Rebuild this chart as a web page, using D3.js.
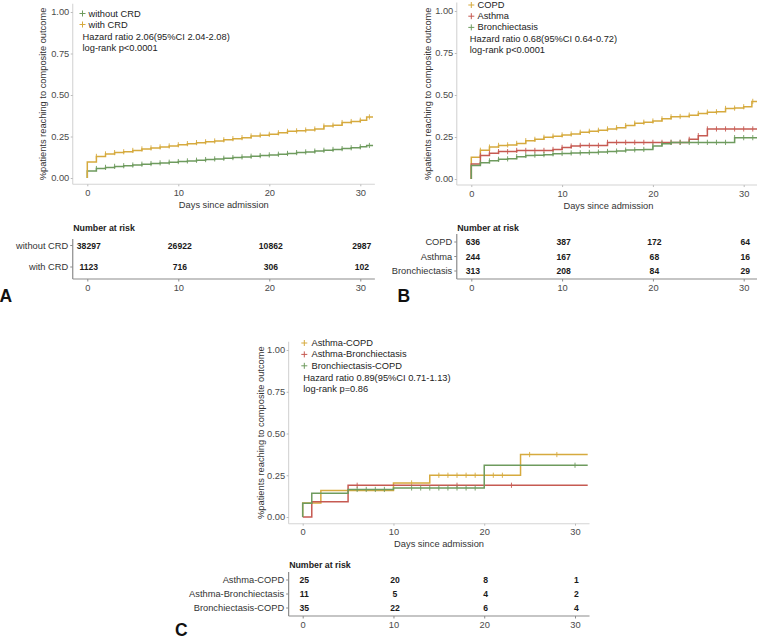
<!DOCTYPE html>
<html>
<head>
<meta charset="utf-8">
<script src="https://cdn.jsdelivr.net/npm/d3@7"></script>
<style>
  html, body { margin: 0; padding: 0; background: #fff; }
  svg { display: block; font-family: "Liberation Sans", Arial, sans-serif; }
</style>
</head>
<body>
<script>
// ---------------- DATA ----------------
const dayTicks = [0, 10, 20, 30];
const yTicks = [0, 0.25, 0.5, 0.75, 1.0];
const xTitle = "Days since admission";
const yTitle = "%patients reaching to composite outcome";
const riskTitle = "Number at risk";

// Panel A
const A_groups = ["without CRD", "with CRD"];
const A_times = [0,1,2,3,4,5,6,7,8,9,10,11,12,13,14,15,16,17,18,19,20,21,22,23,24,25,26,27,28,29,30,30.7];
const A_without = [0.042,0.057,0.064,0.070,0.074,0.078,0.083,0.087,0.091,0.095,0.099,0.103,0.107,0.111,0.115,0.119,0.123,0.127,0.131,0.135,0.139,0.143,0.148,0.153,0.157,0.162,0.167,0.172,0.177,0.182,0.188,0.196];
const A_with = [0.097,0.130,0.145,0.153,0.158,0.166,0.175,0.181,0.187,0.193,0.200,0.207,0.213,0.218,0.223,0.230,0.237,0.243,0.253,0.258,0.263,0.272,0.281,0.284,0.289,0.295,0.313,0.318,0.334,0.340,0.348,0.368];
const A_end = 31.4;
const A_censor = [1,2,3,4,5,6,7,8,9,10,11,12,13,14,15,16,17,18,19,20,21,22,23,24,25,26,27,28,29,30,31];
const A_risk_without = [38297, 26922, 10862, 2987];
const A_risk_with = [1123, 716, 306, 102];
const A_stats = ["Hazard ratio 2.06(95%CI 2.04-2.08)", "log-rank p<0.0001"];

// Panel B
const B_groups = ["COPD", "Asthma", "Bronchiectasis"];
const B_times = [0,1,2,3,4,5,6,7,8,9,10,11,12,13,14,15,16,17,18,19,20,21,22,23,24,25,26,27,28,29,30,30.9];
const B_copd = [0.129,0.171,0.190,0.200,0.203,0.212,0.228,0.236,0.248,0.255,0.262,0.268,0.278,0.284,0.290,0.298,0.305,0.318,0.332,0.338,0.345,0.358,0.370,0.372,0.380,0.390,0.398,0.400,0.420,0.422,0.430,0.462];
const B_asthma = [0.090,0.140,0.153,0.163,0.163,0.170,0.170,0.170,0.170,0.176,0.188,0.196,0.200,0.200,0.200,0.218,0.218,0.218,0.218,0.218,0.218,0.218,0.218,0.218,0.236,0.258,0.298,0.298,0.298,0.298,0.298,0.298];
const B_bronch = [0.080,0.097,0.108,0.117,0.120,0.133,0.140,0.142,0.145,0.150,0.152,0.155,0.156,0.158,0.160,0.164,0.166,0.172,0.174,0.176,0.196,0.210,0.218,0.218,0.218,0.218,0.218,0.218,0.218,0.246,0.246,0.246];
const B_end = 31.8;
const B_censor = [1,2,3,4,5,6,7,8,9,10,11,12,13,14,15,16,17,18,19,20,21,22,23,24,25,26,27,28,29,30,31];
const B_risk_copd = [636, 387, 172, 64];
const B_risk_asthma = [244, 167, 68, 16];
const B_risk_bronch = [313, 208, 84, 29];
const B_stats = ["Hazard ratio 0.68(95%CI 0.64-0.72)", "log-rank p<0.0001"];

// Panel C
const C_groups = ["Asthma-COPD", "Asthma-Bronchiectasis", "Bronchiectasis-COPD"];
const C_ac_times = [0, 2, 10, 14, 24];
const C_ac_vals = [0.084, 0.158, 0.204, 0.250, 0.374];
const C_ab_times = [0, 1, 5];
const C_ab_vals = [0.000, 0.092, 0.190];
const C_bc_times = [0, 1, 5, 10, 20];
const C_bc_vals = [0.083, 0.142, 0.165, 0.174, 0.310];
const C_end = 31.4;
const C_ac_censor = [12, 15, 16, 17, 18, 19, 21, 22, 25, 28];
const C_ab_censor = [6, 17, 23];
const C_bc_censor = [6, 7, 8, 9, 12, 13, 14, 15, 16, 17, 18, 19, 30];
const C_risk_ac = [25, 20, 8, 1];
const C_risk_ab = [11, 5, 4, 2];
const C_risk_bc = [35, 22, 6, 4];
const C_stats = ["Hazard ratio 0.89(95%CI 0.71-1.13)", "log-rank p=0.86"];

// ---------------- STYLE ----------------
const GOLD = "#D6AA3E", GREEN = "#6E9B5E", RED = "#C65A52";
const FS = 9.3;

const svg = d3.select("body").append("svg").attr("width", 757).attr("height", 641);

function stepValue(times, vals, t) {
  const i = d3.bisectRight(times, t) - 1;
  return vals[Math.max(0, i)];
}

function drawPanel(p) {
  const g = svg.append("g");
  const x = d3.scaleLinear().domain([0, 30]).range(p.xRange);
  const y = d3.scaleLinear().domain([0, 1]).range(p.yRange);

  // axis lines (light gray)
  g.append("line").attr("x1", x(p.xLo)).attr("x2", x(p.xLo)).attr("y1", y(p.yHi)).attr("y2", y(p.yLo))
    .attr("stroke", "#d4d4d4").attr("stroke-width", 1.1);
  g.append("line").attr("x1", x(p.xLo)).attr("x2", x(p.xHi)).attr("y1", y(p.yLo)).attr("y2", y(p.yLo))
    .attr("stroke", "#d4d4d4").attr("stroke-width", 1.1);

  // y axis
  const ya = g.append("g").attr("transform", `translate(${x(p.xLo)},0)`)
    .call(d3.axisLeft(y).tickValues(yTicks).tickFormat(d3.format(".2f")).tickSize(2).tickPadding(1.5));
  ya.select(".domain").remove();
  ya.selectAll(".tick line").attr("stroke", "#bbb");
  ya.selectAll(".tick text").attr("font-size", FS).attr("fill", "#4a4a4a").attr("font-family", "Liberation Sans, Arial");

  // x axis
  const xa = g.append("g").attr("transform", `translate(0,${y(p.yLo)})`)
    .call(d3.axisBottom(x).tickValues(dayTicks).tickFormat(d3.format("d")).tickSize(2).tickPadding(3));
  xa.select(".domain").remove();
  xa.selectAll(".tick line").attr("stroke", "#bbb");
  xa.selectAll(".tick text").attr("font-size", FS).attr("fill", "#4a4a4a").attr("font-family", "Liberation Sans, Arial");

  // titles
  g.append("text").attr("x", (x(p.xLo) + x(p.xHi)) / 2).attr("y", y(p.yLo) + 23.5)
    .attr("text-anchor", "middle").attr("font-size", FS).attr("fill", "#333").text(xTitle);
  const yc = (y(p.yLo) + y(p.yHi)) / 2;
  g.append("text").attr("transform", `translate(${p.yTitleX},${yc}) rotate(-90)`)
    .attr("text-anchor", "middle").attr("dominant-baseline", "central")
    .attr("font-size", FS).attr("fill", "#333").text(yTitle);

  // curves
  const line = d3.line().x(d => x(d[0])).y(d => y(d[1])).curve(d3.curveStepAfter);
  p.series.forEach(s => {
    const pts = [[0, 0]].concat(s.times.map((t, i) => [t, s.vals[i]]))
      .concat([[p.end, s.vals[s.vals.length - 1]]]);
    g.append("path").attr("d", line(pts)).attr("fill", "none")
      .attr("stroke", s.color).attr("stroke-width", 1.5).attr("stroke-linejoin", "miter");
    s.censor.forEach(t => {
      const v = stepValue(s.times, s.vals, t);
      g.append("line").attr("x1", x(t)).attr("x2", x(t)).attr("y1", y(v) - 2.6).attr("y2", y(v) + 2.6)
        .attr("stroke", s.color).attr("stroke-width", 0.9);
    });
  });

  // legend
  p.series.forEach((s, i) => {
    const ly = p.legendY + i * p.legendStep;
    g.append("line").attr("x1", p.legendMX - 3).attr("x2", p.legendMX + 3).attr("y1", ly).attr("y2", ly)
      .attr("stroke", s.color).attr("stroke-width", 1);
    g.append("line").attr("x1", p.legendMX).attr("x2", p.legendMX).attr("y1", ly - 3).attr("y2", ly + 3)
      .attr("stroke", s.color).attr("stroke-width", 1);
    g.append("text").attr("x", p.legendTX).attr("y", ly).attr("dominant-baseline", "central")
      .attr("font-size", FS).attr("fill", "#222").text(s.name);
  });
  p.stats.forEach((t, i) => {
    g.append("text").attr("x", p.statX).attr("y", p.statY + i * 11.3).attr("dominant-baseline", "central")
      .attr("font-size", FS).attr("fill", "#222").text(t);
  });

  // risk table
  const tb = p.table;
  const ax = x(p.xLo);
  g.append("text").attr("x", ax + 0.5).attr("y", tb.titleY).attr("dominant-baseline", "central")
    .attr("font-size", 8.8).attr("font-weight", "bold").attr("fill", "#222").text(riskTitle);
  g.append("line").attr("x1", ax).attr("x2", ax).attr("y1", tb.top).attr("y2", tb.bottom)
    .attr("stroke", "#8c8c8c").attr("stroke-width", 1.2);
  g.append("line").attr("x1", ax).attr("x2", x(p.xHi)).attr("y1", tb.bottom).attr("y2", tb.bottom)
    .attr("stroke", "#8c8c8c").attr("stroke-width", 1.2);
  p.series.forEach((s, i) => {
    const ry = tb.rowY[i];
    g.append("line").attr("x1", ax - 2.5).attr("x2", ax).attr("y1", ry).attr("y2", ry)
      .attr("stroke", "#8c8c8c").attr("stroke-width", 1);
    g.append("text").attr("x", ax - 4.5).attr("y", ry).attr("text-anchor", "end").attr("dominant-baseline", "central")
      .attr("font-size", FS).attr("fill", "#333").text(s.name);
    s.risk.forEach((n, j) => {
      g.append("text").attr("x", x(dayTicks[j]) + 1.5).attr("y", ry).attr("text-anchor", "middle")
        .attr("dominant-baseline", "central").attr("font-size", 8.6).attr("font-weight", "bold")
        .attr("fill", "#1a1a1a").text(n);
    });
  });
  const ta = g.append("g").attr("transform", `translate(0,${tb.bottom})`)
    .call(d3.axisBottom(x).tickValues(dayTicks).tickFormat(d3.format("d")).tickSize(2.5).tickPadding(3));
  ta.select(".domain").remove();
  ta.selectAll(".tick line").attr("stroke", "#8c8c8c");
  ta.selectAll(".tick text").attr("font-size", FS).attr("fill", "#4a4a4a").attr("font-family", "Liberation Sans, Arial");

  // panel letter
  g.append("text").attr("x", p.letterX).attr("y", p.letterY).attr("font-size", 17.5).attr("font-weight", "bold")
    .attr("fill", "#111").text(p.letter);
}

drawPanel({
  xRange: [87.3, 360.3], yRange: [178, 12], xLo: -1.6, xHi: 31.6, yLo: -0.038, yHi: 1.05,
  end: A_end, yTitleX: 43,
  series: [
    { name: A_groups[0], times: A_times, vals: A_without, color: GREEN, censor: A_censor, risk: A_risk_without },
    { name: A_groups[1], times: A_times, vals: A_with, color: GOLD, censor: A_censor, risk: A_risk_with }
  ],
  legendY: 13.5, legendStep: 11, legendMX: 82.5, legendTX: 88.5,
  stats: A_stats, statX: 82.5, statY: 37,
  table: { titleY: 228, top: 239, bottom: 279, rowY: [245.5, 267] },
  letter: "A", letterX: -0.5, letterY: 302
});

drawPanel({
  xRange: [471.3, 743.7], yRange: [179, 11], xLo: -1.6, xHi: 31.8, yLo: -0.036, yHi: 1.05,
  end: B_end, yTitleX: 428,
  series: [
    { name: B_groups[0], times: B_times, vals: B_copd, color: GOLD, censor: B_censor, risk: B_risk_copd },
    { name: B_groups[1], times: B_times, vals: B_asthma, color: RED, censor: B_censor, risk: B_risk_asthma },
    { name: B_groups[2], times: B_times, vals: B_bronch, color: GREEN, censor: B_censor, risk: B_risk_bronch }
  ],
  legendY: 5, legendStep: 11.2, legendMX: 471.3, legendTX: 477.5,
  stats: B_stats, statX: 469.8, statY: 39,
  table: { titleY: 228, top: 234, bottom: 279, rowY: [242, 256.5, 271] },
  letter: "B", letterX: 397.5, letterY: 302
});

drawPanel({
  xRange: [302.7, 575], yRange: [517, 350], xLo: -1.55, xHi: 31.6, yLo: -0.04, yHi: 1.05,
  end: C_end, yTitleX: 261,
  series: [
    { name: C_groups[0], times: C_ac_times, vals: C_ac_vals, color: GOLD, censor: C_ac_censor, risk: C_risk_ac },
    { name: C_groups[1], times: C_ab_times, vals: C_ab_vals, color: RED, censor: C_ab_censor, risk: C_risk_ab },
    { name: C_groups[2], times: C_bc_times, vals: C_bc_vals, color: GREEN, censor: C_bc_censor, risk: C_risk_bc }
  ],
  legendY: 343, legendStep: 11.4, legendMX: 304.3, legendTX: 311.5,
  stats: C_stats, statX: 303.3, statY: 378,
  table: { titleY: 565, top: 572, bottom: 616, rowY: [580, 594, 608] },
  letter: "C", letterX: 175, letterY: 636
});
</script>
</body>
</html>
